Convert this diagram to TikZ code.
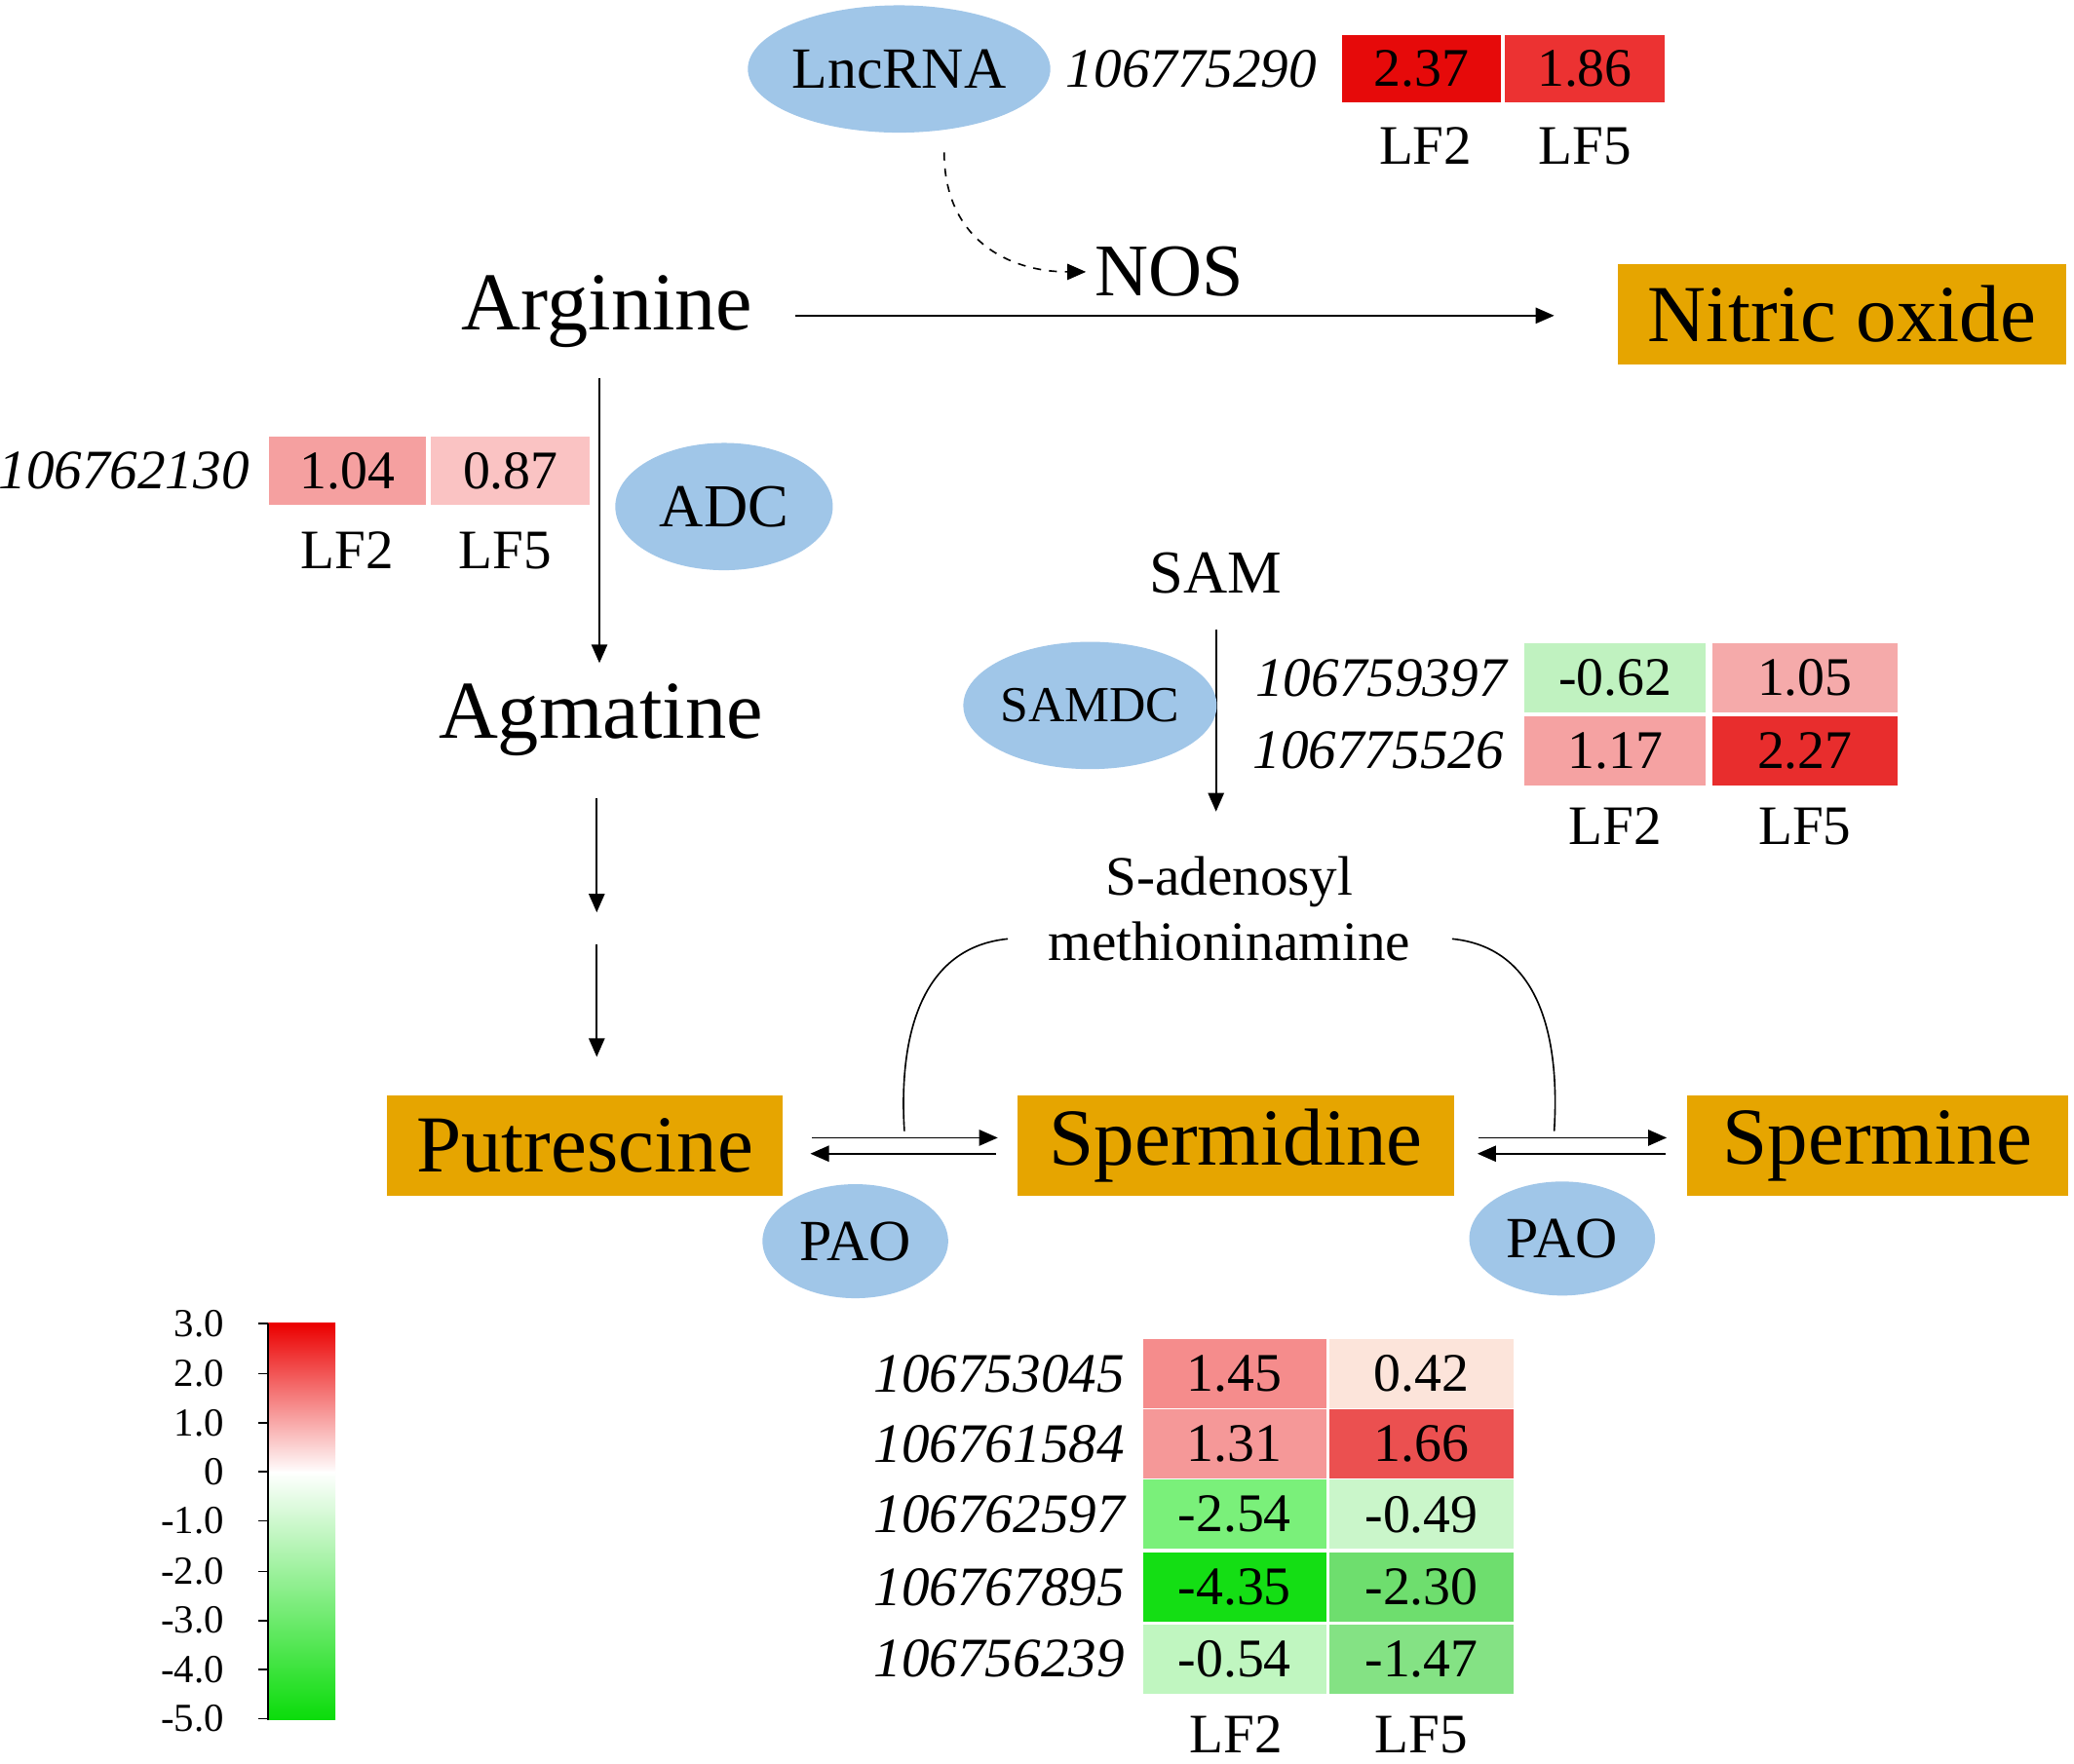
\documentclass[tikz,border=0pt]{standalone}
\usepackage{fontspec}
\setmainfont{Liberation Serif}
\usetikzlibrary{arrows.meta,shapes.geometric}
\definecolor{eblue}{RGB}{160,198,232}
\definecolor{orng}{RGB}{230,165,0}
\tikzset{
 enz/.style={ellipse,fill=eblue,inner sep=0pt},
 met/.style={fill=orng,inner sep=0pt,font=\fontsize{30.5}{33}\selectfont},
 cell/.style={inner sep=0pt,font=\fontsize{20.5}{22}\selectfont},
 gid/.style={anchor=east,font=\fontsize{21}{23}\selectfont\itshape},
 lab/.style={font=\fontsize{21}{23}\selectfont},
 arr/.style={-{Triangle[length=7pt,width=6pt]},line width=0.6pt},
}
\begin{document}
\begin{tikzpicture}[x=0.5pt,y=-0.5pt]
\useasboundingbox[fill=white] (0,0) rectangle (1564,1330);
% LncRNA
\node[enz,minimum width=184*0.5pt,minimum height=96*0.5pt,font=\fontsize{22}{24}\selectfont] (lnc) at (678,52) {LncRNA};
\node[gid] (g1) at (1000,52) {106775290};
\node[cell,fill={rgb,255:red,230;green,10;blue,10},minimum width=60pt,minimum height=25.5pt] (c1) at (1072,52) {2.37};
\node[cell,fill={rgb,255:red,236;green,50;blue,50},minimum width=60pt,minimum height=25.5pt] (c2) at (1195,52) {1.86};
\node[lab] (l1) at (1075,110) {LF2};
\node[lab] (l2) at (1195,110) {LF5};
% NOS
\node[font=\fontsize{28}{30}\selectfont] (nos) at (882,205) {NOS};
\coordinate (d0) at (712,115);
\draw[arr,dashed] (d0) .. controls (712,180) and (760,205) .. (nos.west);
\node[font=\fontsize{31}{33}\selectfont] (arg) at (458,235) {Arginine};
\node[met,minimum width=169pt,minimum height=38pt] (no) at (1389,237) {Nitric oxide};
\coordinate (a1) at (600,238);
\draw[arr] (a1) -- (1172,238);
% ADC
\node[gid] (g2) at (195,355) {106762130};
\node[cell,fill={rgb,255:red,245;green,160;blue,160},minimum width=59.5pt,minimum height=25.5pt] (c3) at (262,355) {1.04};
\node[cell,fill={rgb,255:red,250;green,195;blue,195},minimum width=60pt,minimum height=25.5pt] (c4) at (385,355) {0.87};
\node[lab] (l3) at (262,415) {LF2};
\node[lab] (l4) at (381,415) {LF5};
\node[enz,minimum width=82pt,minimum height=48pt,font=\fontsize{23}{25}\selectfont] (adc) at (546,382) {ADC};
\node[font=\fontsize{31}{33}\selectfont] (agm) at (453,543) {Agmatine};
\coordinate (b1) at (452,285); \coordinate (b2) at (452,500);
\draw[arr] (b1) -- (b2);
\coordinate (b3) at (450,602); \coordinate (b4) at (450,688);
\draw[arr] (b3) -- (b4);
\coordinate (b5) at (450,712); \coordinate (b6) at (450,797);
\draw[arr] (b5) -- (b6);
% SAM
\node[font=\fontsize{23}{25}\selectfont] (sam) at (917,432) {SAM};
\coordinate (s1) at (917,475); \coordinate (s2) at (917,612);
\draw[arr] (s1) -- (s2);
\node[enz,minimum width=87pt,minimum height=48pt,font=\fontsize{19}{22}\selectfont] (samdc) at (822,532) {SAMDC};
\node[gid] (g3) at (1143,511) {106759397};
\node[gid] (g4) at (1141,566) {106775526};
\node[cell,fill={rgb,255:red,192;green,242;blue,192},minimum width=68.5pt,minimum height=26pt] (c5) at (1218,511) {-0.62};
\node[cell,fill={rgb,255:red,245;green,170;blue,170},minimum width=70pt,minimum height=26pt] (c6) at (1361,511) {1.05};
\node[cell,fill={rgb,255:red,245;green,162;blue,162},minimum width=68.5pt,minimum height=26pt] (c7) at (1218,566) {1.17};
\node[cell,fill={rgb,255:red,232;green,45;blue,45},minimum width=70pt,minimum height=26pt] (c8) at (1361,566) {2.27};
\node[lab] (l5) at (1218,623) {LF2};
\node[lab] (l6) at (1361,623) {LF5};
\node[font=\fontsize{21}{22}\selectfont,inner sep=0pt] (sad) at (927,665) {S-adenosyl};
\node[font=\fontsize{21}{22}\selectfont,inner sep=0pt] (sad2) at (927,710) {methioninamine};
% polyamines
\node[met,minimum width=149pt,minimum height=38pt] (put) at (441,864) {Putrescine};
\node[met,minimum width=164.5pt,minimum height=38pt] (spd) at (932,864) {Spermidine};
\node[met,minimum width=143.5pt,minimum height=38pt] (spm) at (1416,864) {Spermine};
\draw[arr] ([yshift=3pt]put.east) ++(11pt,0) -- ++(70pt,0);
\draw[arr] ([yshift=-3pt]spd.west) ++(-8pt,0) -- ++(-70pt,0);
\draw[arr] ([yshift=3pt]spd.east) ++(9pt,0) -- ++(71pt,0);
\draw[arr] ([yshift=-3pt]spm.west) ++(-8pt,0) -- ++(-71pt,0);
\coordinate (k1) at (760,708); \coordinate (k2) at (682,853);
\coordinate (k3) at (1095,708); \coordinate (k4) at (1172,853);
\draw[line width=0.6pt] (k1) .. controls (690,715) and (678,790) .. (k2);
\draw[line width=0.6pt] (k3) .. controls (1165,715) and (1176,790) .. (k4);
\node[enz,minimum width=70pt,minimum height=43pt,font=\fontsize{22}{24}\selectfont] (pao1) at (645,936) {PAO};
\node[enz,minimum width=70pt,minimum height=43pt,font=\fontsize{22}{24}\selectfont] (pao2) at (1178,934) {PAO};
% legend
\shade[top color={rgb,255:red,235;green,0;blue,0},bottom color=white] (202,998) rectangle (253,1111);
\shade[top color=white,bottom color={rgb,255:red,10;green,220;blue,10}] (202,1110) rectangle (253,1297);
\foreach \v/\yy in {3.0/998,2.0/1036,1.0/1073,0/1110,-1.0/1147,-2.0/1185,-3.0/1222,-4.0/1259,-5.0/1296}{
 \draw[line width=0.6pt] (195,\yy) -- (202,\yy);
 \node[anchor=east,font=\fontsize{15}{16}\selectfont] at (176,\yy) {\v};
}
\draw[line width=0.6pt] (202,998) -- (202,1297);
% bottom table
\foreach \g/\yy/\a/\ca/\b/\cb in {
 106753045/1036/1.45/{245,140,140}/0.42/{252,228,218},
 106761584/1089/1.31/{245,152,152}/1.66/{235,80,80},
 106762597/1142/-2.54/{122,240,122}/-0.49/{202,246,202},
 106767895/1197/-4.35/{20,222,20}/-2.30/{110,222,110},
 106756239/1251/-0.54/{192,246,192}/-1.47/{132,226,132}}{
 \node[gid] at (855,\yy) {\g};
 \definecolor{ca}{RGB}{\ca}\definecolor{cb}{RGB}{\cb}
 \node[cell,fill=ca,minimum width=69pt,minimum height=26pt] at (931,\yy) {\a};
 \node[cell,fill=cb,minimum width=69.5pt,minimum height=26pt] at (1072,\yy) {\b};
}
\node[lab] (l7) at (932,1308) {LF2};
\node[lab] (l8) at (1072,1308) {LF5};
\end{tikzpicture}
\end{document}
